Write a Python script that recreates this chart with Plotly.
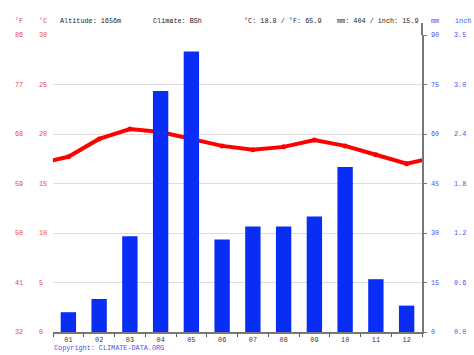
import plotly.graph_objects as go

months = ["01", "02", "03", "04", "05", "06", "07", "08", "09", "10", "11", "12"]
precip_mm = [6, 10, 29, 73, 85, 28, 32, 32, 35, 50, 16, 8]
temp_c = [17.7, 19.5, 20.5, 20.2, 19.5, 18.8, 18.4, 18.7, 19.4, 18.8, 17.9, 17.0]

c_ticks = [0, 5, 10, 15, 20, 25, 30]
f_labels = ["32", "41", "50", "59", "68", "77", "86"]
mm_ticks = [0, 15, 30, 45, 60, 75, 90]
inch_labels = ["0.0", "0.6", "1.2", "1.8", "2.4", "3.0", "3.5"]

header_items = [
    ("°F", 13, "#ee4444"),
    ("°C", 37, "#ee4444"),
    ("Altitude: 1656m", 58, "#222222"),
    ("Climate: BSh", 151, "#222222"),
    ("°C: 18.8 / °F: 65.9", 242, "#222222"),
    ("mm: 404 / inch: 15.9", 335, "#222222"),
    ("mm", 429, "#4455ee"),
    ("inch", 453, "#4455ee"),
]

W, H = 474, 355
L, R, T, B = 53, 422, 35, 332
FONT = "Liberation Mono, DejaVu Sans Mono, monospace"
FS = 6.8
RED = "#ee4444"
BLUE = "#4455ee"


def px(x):
    return (x - L) / (R - L)


def py(y):
    return (B - y) / (B - T)


x_idx = list(range(1, 13))

fig = go.Figure()
fig.add_trace(go.Bar(
    x=x_idx, y=precip_mm, yaxis="y2", width=0.5,
    marker=dict(color="#0a2df5", line=dict(width=0)),
    showlegend=False,
))
# line wraps around the year (previous December / next January), clipped at the axes
line_x = [0] + x_idx + [13]
line_y = [temp_c[-1]] + temp_c + [temp_c[0]]
fig.add_trace(go.Scatter(
    x=line_x, y=line_y, mode="lines+markers",
    line=dict(color="#ff0000", width=4),
    marker=dict(color="#ff0000", size=5),
    showlegend=False, cliponaxis=True,
))

annotations = []
for (txt, x, col) in header_items:
    annotations.append(dict(text=txt, xref="paper", yref="paper", x=px(x), y=py(21),
                            xanchor="left", yanchor="middle", showarrow=False,
                            font=dict(family=FONT, size=FS, color=col)))
for c, f in zip(c_ticks, f_labels):
    annotations.append(dict(text=str(c), xref="paper", yref="y", x=px(37), y=c,
                            xanchor="left", yanchor="middle", showarrow=False,
                            font=dict(family=FONT, size=FS, color=RED)))
    annotations.append(dict(text=f, xref="paper", yref="y", x=px(13), y=c,
                            xanchor="left", yanchor="middle", showarrow=False,
                            font=dict(family=FONT, size=FS, color=RED)))
for m, i in zip(mm_ticks, inch_labels):
    annotations.append(dict(text=str(m), xref="paper", yref="y2", x=px(429), y=m,
                            xanchor="left", yanchor="middle", showarrow=False,
                            font=dict(family=FONT, size=FS, color=BLUE)))
    annotations.append(dict(text=i, xref="paper", yref="y2", x=px(452), y=m,
                            xanchor="left", yanchor="middle", showarrow=False,
                            font=dict(family=FONT, size=FS, color=BLUE)))
annotations.append(dict(text="Copyright: CLIMATE-DATA.ORG", xref="paper", yref="paper",
                        x=px(52), y=py(348), xanchor="left", yanchor="middle",
                        showarrow=False, font=dict(family=FONT, size=FS, color=BLUE)))

fig.update_layout(
    width=W, height=H,
    margin=dict(l=L, r=W - R, t=T, b=H - B, pad=0),
    paper_bgcolor="white", plot_bgcolor="white",
    bargap=0.5,
    xaxis=dict(range=[0.5, 12.5], tickvals=x_idx, ticktext=months, ticks="",
               showgrid=False, zeroline=False, showline=True, linecolor="#777777",
               linewidth=1.5,
               tickfont=dict(family=FONT, size=FS, color="#333333"),
               minor=dict(tickvals=[k + 0.5 for k in range(0, 13)], ticks="outside",
                          ticklen=3, tickcolor="#555555", tickwidth=1, showgrid=False)),
    yaxis=dict(range=[0, 30], tickvals=c_ticks, showticklabels=False, ticks="",
               showgrid=True, gridcolor="#dddddd", gridwidth=1, zeroline=False,
               showline=False),
    yaxis2=dict(range=[0, 90], tickvals=mm_ticks, showticklabels=False,
                overlaying="y", side="right", showgrid=False, zeroline=False,
                showline=True, linecolor="#777777", linewidth=2,
                ticks="outside", ticklen=3, tickcolor="#777777"),
    annotations=annotations,
    font=dict(family=FONT, size=FS),
)
fig.add_shape(type="line", xref="paper", yref="paper", x0=1, x1=1, y0=1, y1=py(23),
              line=dict(color="#777777", width=2))

fig.write_html("out.html",
               config={"displayModeBar": False, "staticPlot": True},
               post_script="document.body.style.margin='0';document.body.style.overflow='hidden';")
